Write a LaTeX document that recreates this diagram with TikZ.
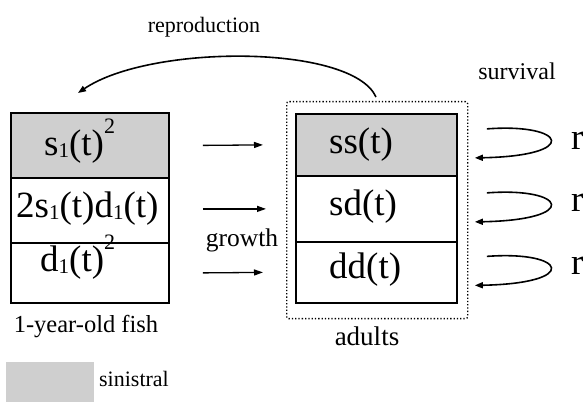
\documentclass[tikz,border=0pt]{standalone}
\usepackage{fontspec}
\setmainfont{Liberation Serif}
\usetikzlibrary{arrows.meta}

% small index "1" and raised square used in the genotype labels
\newcommand{\idx}{\raisebox{-0.03em}{\fontsize{21}{21}\selectfont 1}}
\newcommand{\sq}{\raisebox{0.62em}{\fontsize{22}{22}\selectfont 2}}

\tikzset{
  row/.style={draw, line width=1.8pt, rectangle, inner sep=0pt, anchor=north west},
  shaded/.style={fill=black!19},
  big/.style={font=\fontsize{37}{40}\selectfont, anchor=base west, inner sep=0pt},
  lbl/.style={font=\fontsize{#1}{#1}\selectfont, anchor=base, inner sep=0pt},
  lbl/.default=23,
  growarrow/.style={line width=1.3pt, -{Triangle[length=9pt,width=6pt]}},
  cyclearrow/.style={line width=1.6pt, -{Triangle[length=8pt,width=6pt]}},
}

\begin{document}
\begin{tikzpicture}[x=1pt,y=-1pt]
  \useasboundingbox (0,0) rectangle (584,403);

  % 1-year-old fish
  \node[row, shaded, minimum width=158pt, minimum height=65pt] (a1) at (10,112) {};
  \node[row, minimum width=158pt, minimum height=65pt] (a2) at (10,177) {};
  \node[row, minimum width=158pt, minimum height=60pt] (a3) at (10,242) {};
  \node[big] (ta1) at (44,156) {s\idx(t)\sq};
  \node[big] (ta2) at (16,218) {2s\idx(t)d\idx(t)};
  \node[big] (ta3) at (40,272) {d\idx(t)\sq};

  % adults
  \node[draw, dotted, line width=1.3pt, rounded corners=2pt, minimum width=181pt,
        minimum height=217pt, anchor=north west, inner sep=0pt] (adult) at (286,101) {};
  \node[row, shaded, minimum width=161pt, minimum height=62pt] (b1) at (295,113) {};
  \node[row, minimum width=161pt, minimum height=66pt] (b2) at (295,175) {};
  \node[row, minimum width=161pt, minimum height=61pt] (b3) at (295,241) {};
  \node[big] (tb1) at (329,154) {ss(t)};
  \node[big] (tb2) at (329,216) {sd(t)};
  \node[big] (tb3) at (329,279) {dd(t)};

  % growth arrows
  \draw[growarrow] ([xshift=33pt]a1.east) -- ([xshift=-32pt]b1.west);
  \draw[growarrow] ([xshift=33pt]a2.east |- b2.west) -- ([xshift=-29pt]b2.west);
  \draw[growarrow] ([xshift=33pt]a3.east) -- ([xshift=-32pt]b3.west);

  % reproduction
  \coordinate (rs) at (376,97);
  \coordinate (re) at (78,93);
  \draw[cyclearrow] (rs) .. controls (352,44) and (150,44) .. (re);

  % survival loops
  \foreach \b in {b1,b2,b3}{
    \draw[cyclearrow] ([shift={(29pt,16pt)}]\b.east) .. controls +(80pt,6pt) and +(106pt,2pt)
       .. ([shift={(17pt,-13pt)}]\b.east);
  }

  % labels
  \node[lbl=22] (lrep) at (204,33) {reproduction};
  \node[lbl=24] (lsur) at (517,80) {survival};
  \node[lbl=25.5] (lgro) at (242,247) {growth};
  \node[lbl=24.5] (lyr) at (86,333) {1-year-old fish};
  \node[lbl=27] (lad) at (367,346) {adults};
  \node[big] (r1) at (571,150) {r};
  \node[big] (r2) at (571,212) {r};
  \node[big] (r3) at (571,275) {r};

  % legend
  \node[row, draw=none, shaded, minimum width=88pt, minimum height=40pt] (key) at (5,361) {};
  \node[lbl=22] (lkey) at (134,387) {sinistral};
\end{tikzpicture}
\end{document}
